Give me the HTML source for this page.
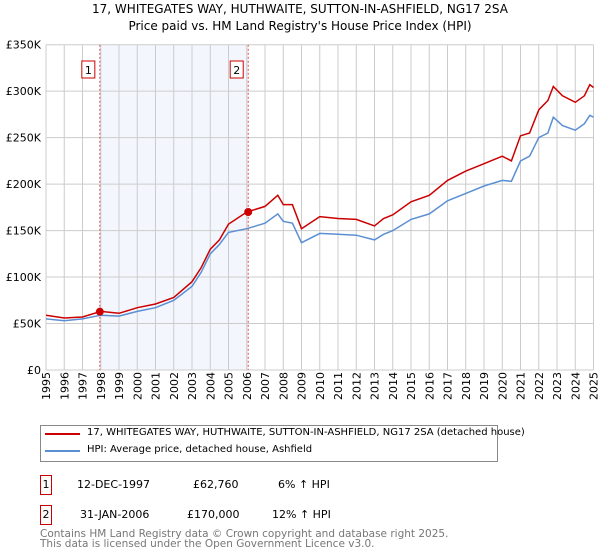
<!DOCTYPE html>
<html><head><meta charset="utf-8"><style>
body{margin:0;background:#fff;font-family:"DejaVu Sans","Liberation Sans",sans-serif;}
#wrap{position:relative;width:600px;height:560px;overflow:hidden}
.t{position:absolute;font-size:11px;color:#000;white-space:nowrap}
</style></head><body><div id="wrap">
<div class="t" style="left:0;width:600px;text-align:center;top:2px;font-size:12px">17, WHITEGATES WAY, HUTHWAITE, SUTTON-IN-ASHFIELD, NG17 2SA</div>
<div class="t" style="left:0;width:600px;text-align:center;top:19px;font-size:12px">Price paid vs. HM Land Registry's House Price Index (HPI)</div>
<svg id="chart" width="600" height="420" style="position:absolute;left:0;top:0" font-family="DejaVu Sans, Liberation Sans, sans-serif" font-size="11"></svg>
<div style="position:absolute;left:40px;top:425px;width:456px;height:35px;border:1px solid #888"></div>
<div style="position:absolute;left:45px;top:433px;width:35px;height:2px;background:#cc0000"></div>
<div class="t" style="left:87px;top:427px;font-size:10px">17, WHITEGATES WAY, HUTHWAITE, SUTTON-IN-ASHFIELD, NG17 2SA (detached house)</div>
<div style="position:absolute;left:45px;top:450px;width:35px;height:2px;background:#5b8fd4"></div>
<div class="t" style="left:87px;top:444px;font-size:10px">HPI: Average price, detached house, Ashfield</div>
<div class="t" style="left:40px;top:475px;width:10px;height:18px;border:1px solid #cc0000;text-align:center;line-height:18px">1</div>
<div class="t" style="left:77px;top:478px">12-DEC-1997</div>
<div class="t" style="left:193px;top:478px">£62,760</div>
<div class="t" style="left:278px;top:478px">6% ↑ HPI</div>
<div class="t" style="left:40px;top:505px;width:10px;height:18px;border:1px solid #cc0000;text-align:center;line-height:18px">2</div>
<div class="t" style="left:80px;top:508px">31-JAN-2006</div>
<div class="t" style="left:187px;top:508px">£170,000</div>
<div class="t" style="left:272px;top:508px">12% ↑ HPI</div>
<div class="t" style="left:40px;top:529px;color:#777;line-height:10px;font-size:10.5px">Contains HM Land Registry data © Crown copyright and database right 2025.<br>This data is licensed under the Open Government Licence v3.0.</div>
</div>
<script>
const hpiYears=[1995,1996,1997,1998,1999,2000,2001,2002,2003,2003.5,2004,2004.5,2005,2006,2007,2007.7,2008,2008.5,2009,2010,2011,2012,2013,2013.5,2014,2015,2016,2017,2018,2019,2020,2020.5,2021,2021.5,2022,2022.5,2022.8,2023.3,2024,2024.5,2024.8,2025];
const hpiValues=[55,53,55,59,58,63,67,75,90,105,125,135,148,152,158,168,160,158,137,147,146,145,140,146,150,162,168,182,190,198,204,203,225,230,250,255,272,263,258,265,274,272];
const priceValues=[59,56,57,63,61,67,71,78,95,110,130,140,157,170,176,188,178,178,152,165,163,162,155,163,167,181,188,204,214,222,230,225,252,255,280,290,305,295,288,295,307,304];
const saleYears=[1997.95,2006.08];
const salePrices=[62.76,170];
const yTicks=[0,50,100,150,200,250,300,350];
const yTickLabels=["£0","£50K","£100K","£150K","£200K","£250K","£300K","£350K"];
const xTicks=[1995,1996,1997,1998,1999,2000,2001,2002,2003,2004,2005,2006,2007,2008,2009,2010,2011,2012,2013,2014,2015,2016,2017,2018,2019,2020,2021,2022,2023,2024,2025];
const X0=46,X1=593.5,Y0=370,Y1=44.7;
const xs=v=>X0+(v-1995)/30*(X1-X0);
const ys=v=>Y0-v/350*(Y0-Y1);
const svg=document.getElementById('chart');
const NS='http://www.w3.org/2000/svg';
function mk(tag,attrs,parent){const e=document.createElementNS(NS,tag);for(const k in attrs)e.setAttribute(k,attrs[k]);(parent||svg).appendChild(e);return e;}
let r=mk('rect',{x:xs(saleYears[0]),y:Y1,width:xs(saleYears[1])-xs(saleYears[0]),height:Y0-Y1,fill:'#f3f7fd'});


xTicks.forEach(t=>{
 const l=mk('line',{x1:xs(t),x2:xs(t),y1:Y1,y2:Y0,stroke:'#ccc','stroke-width':1});
 
 
 const tx=mk('text',{x:0,y:0,transform:`translate(${xs(t)+4},${Y0+30}) rotate(-90)`,'font-size':11});
 tx.textContent=t;
 
 
});
yTicks.forEach((t,i)=>{
 const l=mk('line',{x1:X0,x2:X1,y1:ys(t),y2:ys(t),stroke:'#ccc','stroke-width':1});
 
 
 const tx=mk('text',{x:X0-5,y:ys(t)+4,'text-anchor':'end','font-size':11});
 tx.textContent=yTickLabels[i];
 
 
});
saleYears.forEach((s,i)=>{
 const l=mk('line',{x1:xs(s),x2:xs(s),y1:Y1,y2:Y0,stroke:'#e05050','stroke-dasharray':'2,2','stroke-width':1});
 
 
 const b=mk('rect',{x:xs(s)-18,y:61,width:13,height:17,fill:'#fff',stroke:'#cc0000'});
 
 
 const tx=mk('text',{x:xs(s)-11.5,y:74,'text-anchor':'middle','font-size':11});
 tx.textContent=i+1;
 
 
});
function path(vals,color,name){
 const d=vals.map((v,i)=>(i?'L':'M')+xs(hpiYears[i]).toFixed(1)+','+ys(v).toFixed(1)).join('');
 const p=mk('path',{d,fill:'none',stroke:color,'stroke-width':1.5});
 
 
}
path(hpiValues,'#5b8fd4','hpi-line');
path(priceValues,'#cc0000','price-line');
saleYears.forEach((s,i)=>{
 const c=mk('circle',{cx:xs(s),cy:ys(salePrices[i]),r:4,fill:'#cc0000'});
 
 
});
</script></body></html>
